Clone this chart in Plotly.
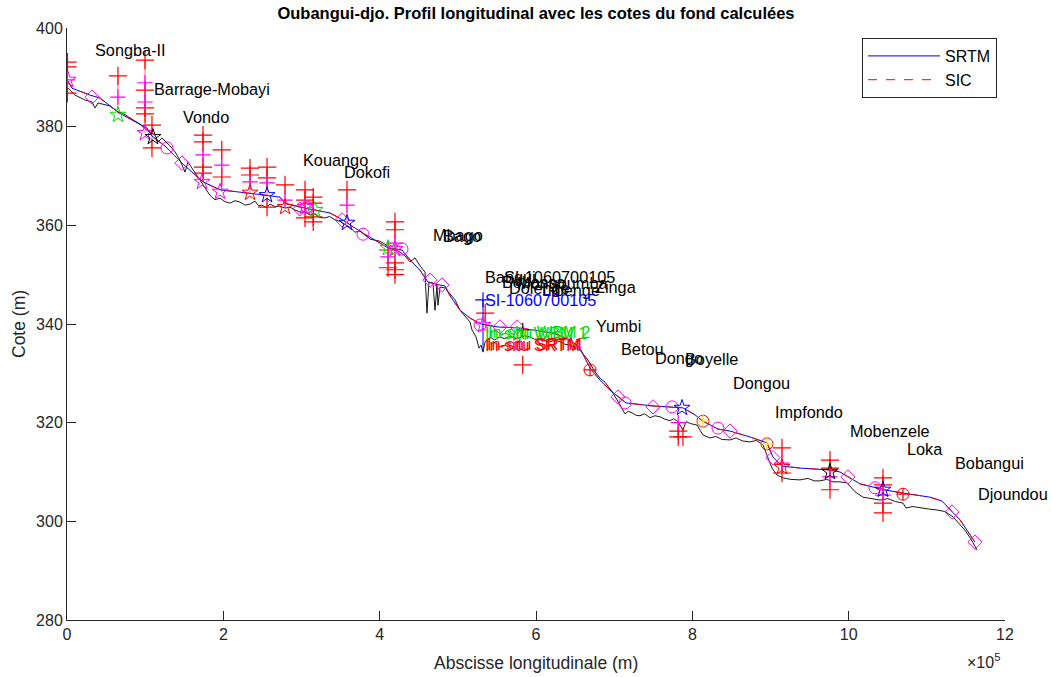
import plotly.graph_objects as go

# ---------------- data (x in km, y in m) ----------------
srtm_raw_km = [1.3, 10.2, 23.0, 32.0, 35.8, 39.7, 55.0, 65.2, 70.4, 80.6, 93.4, 103.6, 112.6, 116.4, 121.5,
               131.8, 138.2, 144.6, 151.0, 154.8, 163.8, 170.1, 176.5, 182.9, 189.0, 195.7, 202.0, 208.5, 215.0,
               221.3, 228.0, 234.1, 240.5, 245.0, 249.5, 255.0, 259.7, 266.0, 272.5, 278.9, 285.3, 291.7, 298.1,
               304.5, 310.9, 317.3, 323.0, 330.1, 336.0, 342.9, 349.0, 355.6, 362.0, 368.4, 375.0, 381.2, 388.0,
               394.0, 400.0, 406.8, 413.0, 419.6, 426.0, 432.4, 438.8, 445.2, 451.6, 458.0, 460.5, 463.1, 468.2,
               470.8, 473.3, 474.6, 477.2, 483.6, 490.0, 496.4, 502.8, 509.2, 515.6, 518.1, 523.2, 527.1, 529.6,
               532.2, 534.8, 541.1, 547.0, 553.9, 560.0, 566.7, 573.0, 579.5, 586.0, 592.3, 598.0, 605.1, 611.0,
               617.9, 624.0, 630.7, 637.0, 643.5, 650.0, 656.3, 666.5, 675.5, 682.0, 688.3, 698.5, 707.5, 713.8,
               718.0, 722.8, 728.0, 733.0, 739.0, 745.8, 752.0, 758.6, 765.0, 771.4, 776.0, 781.6, 788.0, 791.9,
               798.0, 806.0, 813.6, 822.6, 830.0, 838.0, 848.2, 856.0, 864.0, 873.8, 882.0, 890.4, 895.5, 901.9,
               908.0, 916.0, 926.0, 937.7, 948.0, 956.0, 963.3, 972.0, 980.0, 988.9, 997.8, 1008.1, 1018.3,
               1028.0, 1040.1, 1050.0, 1060.0, 1069.5, 1073.4, 1082.0, 1091.3, 1102.0, 1113.0, 1123.0, 1133.5,
               1140.0, 1148.8, 1156.0, 1164.2]
srtm_raw_z = [387.8, 386.4, 385.4, 385.0, 383.8, 384.8, 384.2, 383.0, 382.8, 381.8, 380.5, 379.1, 378.3, 376.9, 377.7,
              376.1, 374.9, 373.2, 370.8, 372.8, 370.8, 369.2, 367.6, 366.1, 365.2, 365.5, 364.8, 364.5, 365.0,
              364.7, 364.1, 364.3, 364.9, 364.0, 364.1, 363.6, 364.3, 363.8, 363.9, 363.5, 363.7, 363.1, 362.7,
              362.7, 362.1, 362.3, 361.6, 361.5, 361.8, 361.1, 360.8, 360.1, 359.6, 358.6, 358.9, 358.0, 357.2,
              357.0, 356.8, 356.2, 355.4, 355.0, 354.6, 353.8, 352.6, 353.4, 351.8, 350.5, 342.2, 348.5, 348.3,
              342.8, 347.9, 343.8, 347.5, 347.3, 346.2, 344.9, 342.8, 341.6, 340.4, 338.8, 337.4, 335.1, 335.7,
              334.3, 336.4, 337.2, 336.8, 337.4, 337.0, 337.6, 337.1, 337.2, 337.6, 337.4, 336.9, 337.0, 336.6,
              336.4, 336.7, 336.4, 335.9, 335.7, 335.3, 334.7, 332.7, 330.3, 329.0, 328.2, 326.0, 323.6, 321.8,
              322.3, 322.0, 321.5, 321.4, 321.8, 321.0, 321.4, 321.2, 320.7, 320.4, 320.8, 320.2, 318.5, 320.2,
              319.8, 319.5, 317.5, 316.9, 317.2, 316.6, 316.5, 316.9, 316.3, 316.1, 316.4, 315.5, 313.4, 310.8,
              309.4, 308.8, 308.5, 308.4, 308.7, 308.2, 308.2, 308.5, 308.0, 308.0, 307.8, 306.0, 304.9,
              304.7, 304.3, 304.6, 304.0, 303.7, 302.7, 303.0, 302.7, 302.5, 302.3, 302.0, 300.9,
              299.8, 298.2, 296.5, 294.2]

calc_km = [0.0, 6.4, 29.4, 42.2, 66.5, 102.3, 108.7, 126.6, 147.1, 174.0, 195.7, 231.6, 254.6, 272.5, 278.9,
           298.1, 317.3, 336.5, 350.5, 358.2, 378.7, 400.4, 410.7, 428.6, 438.8, 451.6, 461.8, 477.2, 483.6,
           490.0, 502.8, 515.6, 529.6, 551.4, 577.0, 605.1, 624.3, 643.5, 656.3, 669.1, 681.9, 694.7, 707.5,
           715.1, 748.4, 774.0, 788.0, 803.4, 813.6, 832.8, 848.2, 873.8, 895.5, 903.2, 914.7, 937.7, 976.1,
           988.9, 999.1, 1014.5, 1034.9, 1045.1, 1070.7, 1104.0, 1119.4, 1129.6, 1142.4, 1161.6]
calc_z = [389.5, 387.8, 386.4, 385.8, 382.8, 379.7, 378.1, 375.9, 372.6, 368.8, 367.2, 366.6, 366.1, 365.7, 364.5,
          363.7, 363.1, 362.5, 361.3, 360.5, 358.4, 356.4, 355.4, 355.0, 353.0, 350.9, 348.5, 347.9, 347.7,
          345.7, 342.8, 341.2, 340.0, 339.4, 339.2, 338.6, 338.0, 336.8, 335.1, 331.1, 328.6, 326.6, 325.0,
          324.0, 323.4, 323.2, 323.0, 321.6, 320.3, 318.7, 318.3, 317.1, 315.9, 313.0, 311.2, 310.8, 310.4,
          310.0, 309.0, 307.6, 306.8, 306.4, 305.7, 304.9, 304.1, 302.5, 300.3, 295.8]

diamond_km = [32.0, 147.1, 298.1, 351.8, 464.4, 479.7, 553.9, 575.7, 704.9, 749.7, 848.2, 903.2, 999.1, 1132.2, 1161.6]
diamond_z = [386.0, 372.6, 363.3, 361.1, 348.9, 347.9, 339.4, 339.4, 325.2, 323.2, 318.3, 312.9, 309.0, 301.9, 295.8]

mcircle_km = [127.9, 307.0, 378.7, 428.6, 528.4, 713.8, 774.0, 832.8, 1033.7]
mcircle_z = [375.7, 363.7, 358.2, 355.2, 339.8, 324.0, 323.2, 318.9, 306.8]

rcircle_km = [669.1, 813.6, 895.5, 1069.5]
rcircle_z = [330.7, 320.3, 315.7, 305.5]
rcircle_plus = ["#FF0000", "#FFE000", "#FFE000", "#FF0000"]

mstar_km = [1.3, 99.8, 172.7, 195.7, 304.5, 419.6, 532.2]
mstar_z = [389.5, 378.7, 368.8, 366.8, 363.7, 355.2, 339.8]
rstar_km = [234.1, 278.9, 914.7]
rstar_z = [366.6, 363.7, 311.0]
bstar_km = [255.9, 358.2, 786.8, 1043.9]
bstar_z = [366.1, 360.5, 323.0, 306.4]
gstar_km = [65.2, 317.3, 410.7]
gstar_z = [382.4, 363.1, 355.4]
kstar_km = [110.0, 976.1]
kstar_z = [377.9, 310.0]

# groups of measured levels (red +), mean level (magenta +)
grp_km = [0.6, 65.2, 99.8, 108.7, 174.0, 198.0, 234.1, 255.9, 278.9, 304.5, 315.0, 358.2, 410.7, 419.6,
          535.0, 583.0, 782.0, 788.0, 914.7, 976.1, 1043.9]
grp_red = [[393.1, 392.1, 386.8], [390.3], [393.5, 387.4, 383.8, 382.6], [380.3, 375.7],
           [378.3, 376.9, 371.8, 370.6], [375.3, 369.8], [371.6, 370.2], [371.8, 369.6, 363.7],
           [368.2], [367.2, 365.1, 361.5], [365.7, 364.5, 361.7, 360.7], [367.2], [355.0, 351.4],
           [360.7, 359.1, 352.4, 351.0, 350.0], [342.2], [331.7], [318.3, 317.1], [317.1],
           [314.9, 309.8], [312.4, 310.8, 306.4], [308.8, 307.4, 303.7, 301.7]]
grp_mag = [[389.5], [386.0], [388.9, 385.0], [], [374.3], [372.2], [368.8], [368.6], [365.1], [], [],
           [364.1], [353.6], [356.4], [], [], [320.0], [], [311.8], [309.0], [305.3]]
grp_low = [389.5, 382.4, 378.7, 375.7, 368.8, 366.8, 366.6, 363.7, 363.7, 361.5, 360.7, 360.5, 351.4,
           350.0, 340.0, 331.7, 317.1, 317.1, 309.8, 306.4, 301.7]

si_km = 532.2
si_z = [344.9, 334.5]
insitu_km = [583.0]
insitu_z = [338.8]

station_names = ["Songba-II", "Barrage-Mobayi", "Vondo", "Kouango", "Dokofi", "Mbago", "Bago",
                 "Bangui", "SI-1060700105", "Bobassa", "Mongoumba", "Dolenge", "Libenge", "Zinga",
                 "Yumbi", "Betou", "Dongo", "Boyelle", "Dongou", "Impfondo", "Mobenzele", "Loka",
                 "Bobangui", "Djoundou"]
station_km = [33.3, 108.7, 145.8, 299.4, 351.8, 465.7, 478.5, 532.2, 556.5, 553.9, 573.1, 562.9, 605.1,
              672.9, 674.2, 706.2, 749.7, 788.0, 849.5, 903.2, 999.1, 1072.1, 1133.5, 1162.9]
station_z = [395.5, 387.6, 382.0, 373.2, 370.8, 358.0, 357.8, 349.5, 349.5, 348.5, 348.3, 347.3, 346.9,
             347.5, 339.6, 334.9, 333.1, 332.9, 328.0, 322.2, 318.3, 314.7, 311.8, 305.5]

tag_texts = ["SI-1060700105", "In-situ WBM 1", "In-situ WBM 2", "In-situ SRTM", "In-situ SRTM"]
tag_colors = ["#0000FF", "#00E000", "#00E000", "#FF0000", "#FF0000"]
tag_km = [532.2, 532.2, 535.5, 532.2, 535.0]
tag_z = [344.9, 338.2, 338.4, 335.7, 335.9]

xticks = [0, 2, 4, 6, 8, 10, 12]
yticks = [280, 300, 320, 340, 360, 380, 400]

# ---------------- figure ----------------
FONT = "Liberation Sans, Arial, Helvetica, sans-serif"
m = lambda arr: [v * 1000 for v in arr]

W, H = 1051, 677
L, R, T, B = 67, 46, 28, 57
PW, PH = W - L - R, H - T - B
px = lambda p: (p - L) / PW
py = lambda p: 1 - (p - T) / PH

fig = go.Figure()

fig.add_trace(go.Scatter(x=m(srtm_raw_km), y=srtm_raw_z, mode="lines",
                         line=dict(color="black", width=0.9), showlegend=False, hoverinfo="skip"))

for gx, reds, mags, low in zip(grp_km, grp_red, grp_mag, grp_low):
    ys = reds + mags + [low]
    fig.add_trace(go.Scatter(x=[gx * 1000, gx * 1000], y=[min(ys), max(ys)], mode="lines",
                             line=dict(color="rgba(255,60,60,0.7)", width=1), showlegend=False))

fig.add_trace(go.Scatter(x=m(calc_km), y=calc_z, mode="lines", name="SRTM",
                         line=dict(color="#0000FF", width=1)))
fig.add_trace(go.Scatter(x=m(calc_km), y=calc_z, mode="lines", name="SIC",
                         line=dict(color="#FF0000", width=1, dash="dash")))

gx_r, gy_r, gx_m, gy_m = [], [], [], []
for gx, reds, mags in zip(grp_km, grp_red, grp_mag):
    gx_r += [gx * 1000] * len(reds)
    gy_r += reds
    gx_m += [gx * 1000] * len(mags)
    gy_m += mags

def mk(x, y, symbol, color, size, width=1.0):
    fig.add_trace(go.Scatter(x=x, y=y, mode="markers", showlegend=False,
                             marker=dict(symbol=symbol, size=size, color=color,
                                         line=dict(color=color, width=width))))

mk(gx_r, gy_r, "cross-thin-open", "#FF0000", 13, 1.2)
mk(gx_m, gy_m, "cross-thin-open", "#FF00FF", 11, 1.2)
mk([si_km * 1000], [si_z[0]], "cross-thin-open", "#0000FF", 11, 1.2)
fig.add_trace(go.Scatter(x=[si_km * 1000] * 2, y=si_z, mode="lines",
                         line=dict(color="#0000FF", width=1), showlegend=False))
mk(m(insitu_km), insitu_z, "cross-thin-open", "#000000", 10, 1.2)
mk(m(diamond_km), diamond_z, "diamond-open", "#FF00FF", 11)
mk(m(mcircle_km), mcircle_z, "circle-open", "#FF00FF", 12)
mk(m(rcircle_km), rcircle_z, "circle-open", "#FF0000", 12)
for cx, cz, cc in zip(rcircle_km, rcircle_z, rcircle_plus):
    mk([cx * 1000], [cz], "cross-thin-open", cc, 9, 1.2)
mk(m(mstar_km), mstar_z, "star-open", "#FF00FF", 12)
mk(m(rstar_km), rstar_z, "star-open", "#FF0000", 12)
mk(m(bstar_km), bstar_z, "star-open", "#0000FF", 12)
mk(m(gstar_km), gstar_z, "star-open", "#00E000", 12)
mk(m(kstar_km), kstar_z, "star-open", "#000000", 12)

annotations = []
for name, sx, sz in zip(station_names, station_km, station_z):
    annotations.append(dict(x=sx * 1000, y=sz, text=name, showarrow=False, xanchor="left",
                            yanchor="middle", font=dict(family=FONT, size=16.3, color="black")))
for t, c, sx, sz in zip(tag_texts, tag_colors, tag_km, tag_z):
    annotations.append(dict(x=sx * 1000, y=sz, text=t, showarrow=False, xanchor="left",
                            yanchor="middle", font=dict(family=FONT, size=16.3, color=c)))
# axis titles and exponent
annotations.append(dict(x=px(536), y=py(663), xref="paper", yref="paper", text="Abscisse longitudinale (m)",
                        showarrow=False, xanchor="center", yanchor="middle",
                        font=dict(family=FONT, size=17.5, color="#262626")))
annotations.append(dict(x=px(19), y=py(324), xref="paper", yref="paper", text="Cote (m)", textangle=-90,
                        showarrow=False, xanchor="center", yanchor="middle",
                        font=dict(family=FONT, size=17.5, color="#262626")))
annotations.append(dict(x=px(965), y=py(661), xref="paper", yref="paper", text="×10<sup>5</sup>",
                        showarrow=False, xanchor="left", yanchor="middle",
                        font=dict(family=FONT, size=16, color="#262626")))

fig.update_layout(
    width=W, height=H,
    margin=dict(l=L, r=R, t=T, b=B, autoexpand=False),
    paper_bgcolor="white", plot_bgcolor="white",
    font=dict(family=FONT, size=16, color="#262626"),
    title=dict(text="<b>Oubangui-djo. Profil longitudinal avec les cotes du fond calculées</b>",
               x=0.5, xanchor="center", xref="paper", y=1 - 13 / H, yanchor="middle", yref="container",
               font=dict(family=FONT, size=16.5, color="black"), automargin=False),
    legend=dict(x=px(997), y=py(38), xanchor="right", yanchor="top", bgcolor="white",
                bordercolor="#262626", borderwidth=1, font=dict(family=FONT, size=16, color="black"),
                itemwidth=72, tracegroupgap=0),
    annotations=annotations,
    showlegend=True,
)
fig.update_xaxes(range=[0, 1.2e6], tickvals=[v * 1e5 for v in xticks], ticktext=[str(v) for v in xticks],
                 showgrid=False, zeroline=False, showline=True, linecolor="#262626", linewidth=1,
                 ticks="inside", ticklen=9, tickcolor="#262626", automargin=False,
                 tickfont=dict(family=FONT, size=16, color="#262626"))
fig.update_yaxes(range=[280, 400], tickvals=yticks, showgrid=False, zeroline=False, showline=True,
                 linecolor="#262626", linewidth=1, ticks="inside", ticklen=9, tickcolor="#262626",
                 automargin=False, tickfont=dict(family=FONT, size=16, color="#262626"))

fig.write_html("out.html", config={"displayModeBar": False},
               post_script="document.body.style.margin='0px';document.body.style.padding='0px';")
